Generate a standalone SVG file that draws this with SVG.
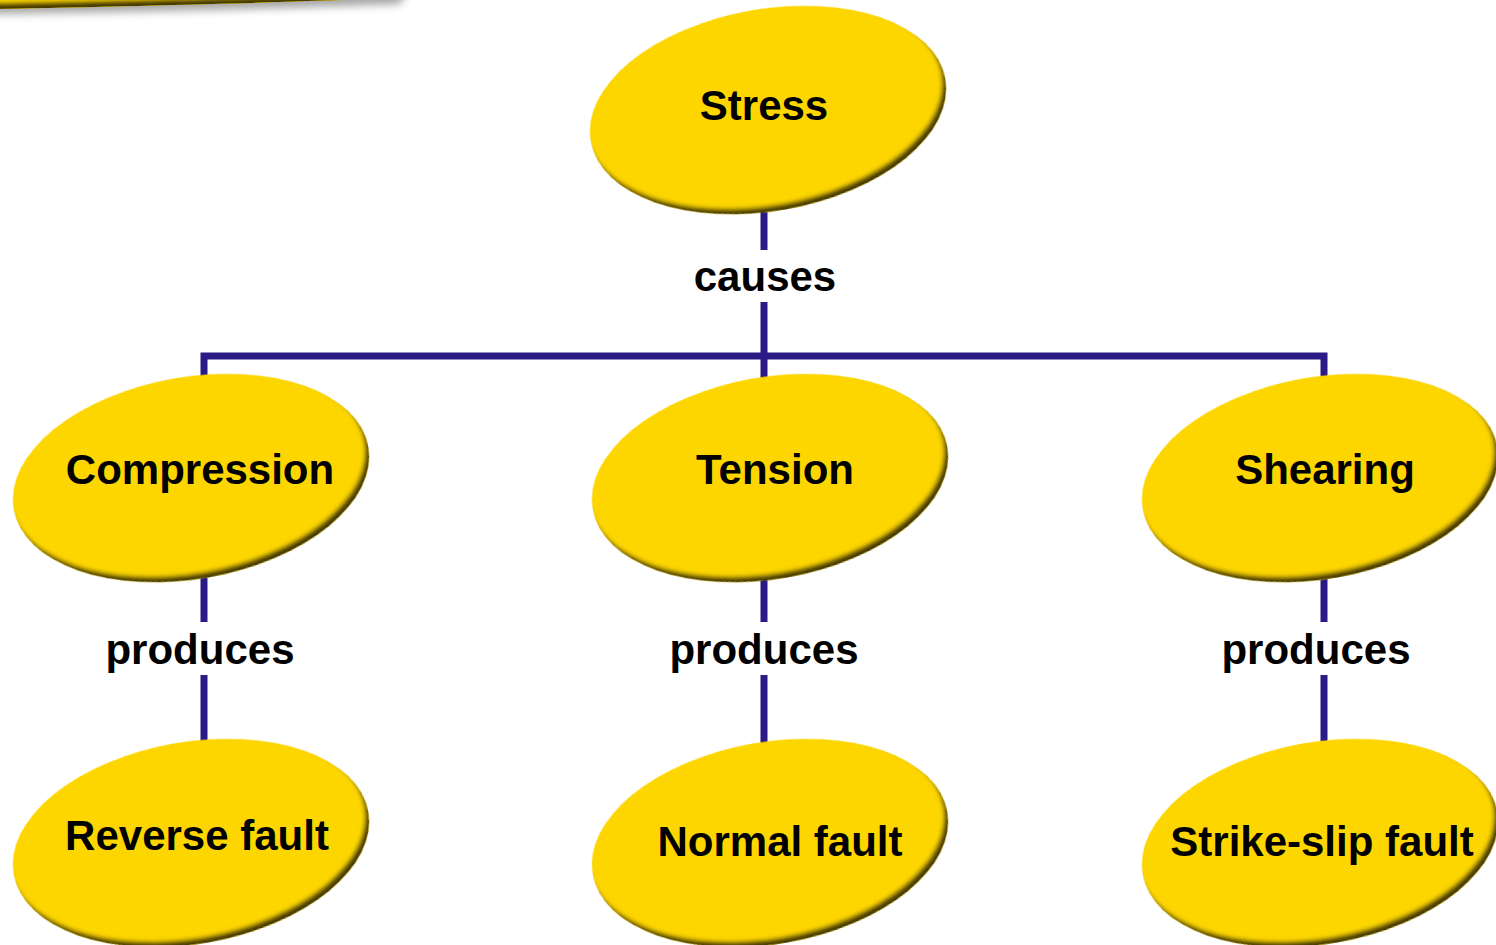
<svg xmlns="http://www.w3.org/2000/svg" width="1496" height="945" viewBox="0 0 1496 945">
<style>
.node ellipse,.node .shape{fill:#FDD600;filter:url(#bevel);}
.lbl{font-family:"Liberation Sans",Arial,sans-serif;font-weight:bold;font-size:42px;fill:#000;text-anchor:middle;}
.conn{stroke:#2C1A86;stroke-width:7;fill:none;stroke-linecap:butt;}
</style>
<defs>
<filter id="bevel" x="-10%" y="-10%" width="120%" height="130%">
<feGaussianBlur in="SourceAlpha" stdDeviation="2" result="blur"/>
<feOffset in="blur" dx="-3" dy="-6" result="off"/>
<feComposite in="SourceAlpha" in2="off" operator="out" result="rim"/>
<feFlood flood-color="#463a00" result="col"/>
<feComposite in="col" in2="rim" operator="in" result="shadow"/>
<feMerge result="m"><feMergeNode in="SourceGraphic"/><feMergeNode in="shadow"/></feMerge>
<feGaussianBlur in="m" stdDeviation="0.6"/>
</filter>
<filter id="soft" x="-20%" y="-50%" width="140%" height="300%"><feGaussianBlur stdDeviation="4"/></filter>
</defs>
<rect width="1496" height="945" fill="#fff"/>
<g id="corner" class="node">
<path d="M-10,-30 H420 L400,4 C300,8 150,12 -10,14 Z" fill="#000" opacity="0.35" filter="url(#soft)"/>
<path class="shape" d="M-10,-30 H420 L390,-2 C300,2 150,6 -10,9 Z"/>
</g>
<g id="connectors">
<path class="conn" d="M764 212V250M764 302V378M204 356H1324M204 352.5V378M1324 352.5V378"/>
<path class="conn" d="M204 578V622M204 675V744M764 578V622M764 675V744M1324 578V622M1324 675V744"/>
<text class="lbl" x="765" y="291">causes</text>
<text class="lbl" x="200" y="664">produces</text>
<text class="lbl" x="764" y="664">produces</text>
<text class="lbl" x="1316" y="664">produces</text>
</g>
<g id="stress" class="node"><ellipse cx="768" cy="110" rx="180" ry="101" transform="rotate(-10 768 110)"/><text class="lbl" x="764" y="120">Stress</text></g>
<g id="compression" class="node"><ellipse cx="191" cy="478" rx="180" ry="101" transform="rotate(-10 191 478)"/><text class="lbl" x="200" y="484">Compression</text></g>
<g id="tension" class="node"><ellipse cx="770" cy="478" rx="180" ry="101" transform="rotate(-10 770 478)"/><text class="lbl" x="775" y="484">Tension</text></g>
<g id="shearing" class="node"><ellipse cx="1320" cy="478" rx="180" ry="101" transform="rotate(-10 1320 478)"/><text class="lbl" x="1325" y="484">Shearing</text></g>
<g id="reverse" class="node"><ellipse cx="191" cy="843" rx="180" ry="101" transform="rotate(-10 191 843)"/><text class="lbl" x="197" y="850">Reverse fault</text></g>
<g id="normal" class="node"><ellipse cx="770" cy="843" rx="180" ry="101" transform="rotate(-10 770 843)"/><text class="lbl" x="780" y="856">Normal fault</text></g>
<g id="strikeslip" class="node"><ellipse cx="1320" cy="843" rx="180" ry="101" transform="rotate(-10 1320 843)"/><text class="lbl" x="1322" y="856">Strike-slip fault</text></g>
</svg>
